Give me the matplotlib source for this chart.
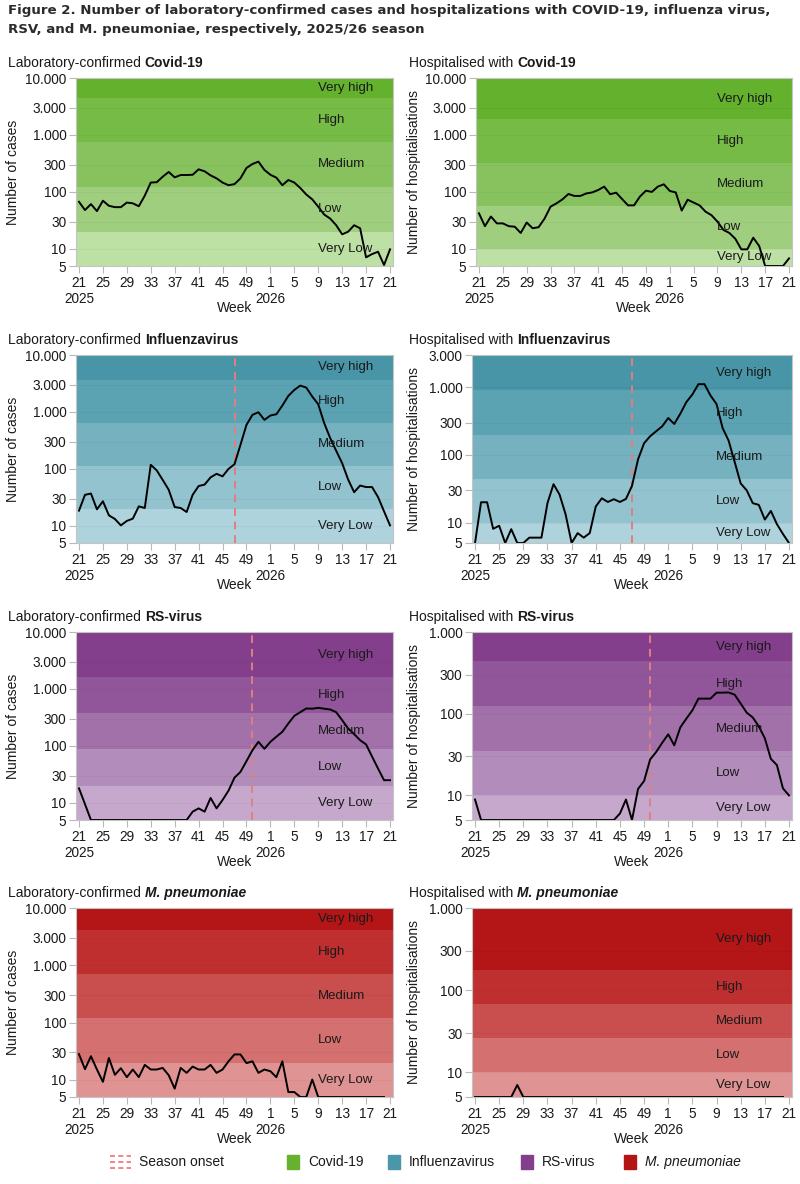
import numpy as np
import matplotlib
matplotlib.use("Agg")
import matplotlib.pyplot as plt
import matplotlib.transforms as mtransforms
from matplotlib.lines import Line2D
from matplotlib.patches import Rectangle

plt.rcParams['font.family'] = ['Liberation Sans', 'DejaVu Sans']

nan = np.nan

# ISO weeks 21/2025 .. 21/2026
weeks = list(range(21, 53)) + list(range(1, 22))
tick_every = 4
year_labels = {0: "2025", 32: "2026"}

# weekly counts (5 = floor of the log axis)
covid_lab = [67, 48, 61, 46, 70, 57, 54, 54, 65, 63, 56, 86, 146, 148, 185, 224, 180, 198,
             198, 200, 249, 230, 195, 173, 146, 131, 137, 173, 263, 309, 340, 243, 200, 178,
             131, 162, 146, 117, 90, 74, 55, 40, 34, 26, 18, 20, 26, 23, 7.1, 8.1, 8.9, 5.2, 9.8]
covid_hosp = [42, 25, 37, 28, 28, 25, 24.5, 19, 29, 23, 24, 34, 55, 63, 74, 92, 85, 85,
              94, 98, 108, 124, 91, 97, 75, 58, 58, 83, 105, 100, 124, 136, 104, 98,
              47, 73, 65, 58, 45, 39, 30, 21.5, 19, 15, 9.8, 9.8, 15.7, 11.2, 5, 5, 5, 5, 6.8]
flu_lab = [18.5, 35, 37, 19.5, 27, 15.3, 13.2, 10.2, 12.2, 13.4, 22, 20.6, 118, 94, 64, 43,
           21.4, 20.6, 17.5, 35, 50, 53, 71, 82, 74, 100, 121, 265, 593, 889, 989, 726, 865,
           912, 1294, 1914, 2437, 2904, 2679, 1862, 1367, 635, 347, 208, 126, 65, 39, 51, 48,
           48, 32, 18, 10.2]
flu_hosp = [5, 20, 20, 8.1, 9, 5, 8, 5, 5, 6, 6, 6, 19.4, 37, 26, 13.3, 5, 7, 6, 7, 17.3,
            22.9, 20.2, 22.2, 20.2, 22.4, 35, 86, 149, 189, 224, 265, 352, 287, 407, 604, 783,
            1112, 1112, 757, 565, 251, 163, 79, 38, 30, 19.4, 18.3, 11.1, 14.9, 9.5, 6.8, 5]
rsv_lab = [18, 9.5, 5, 5, 5, 5, 5, 5, 5, 5, 5, 5, 5, 5, 5, 5, 5, 5, 5,
           7, 8, 7, 12.2, 8, 11.2, 16.4, 27.7, 35, 54, 84, 118, 89, 118, 145, 177, 248, 337,
           391, 454, 450, 466, 450, 436, 391, 283, 202, 161, 126, 106, 65, 40, 25, 25]
rsv_hosp = [8.9, 5, 5, 5, 5, 5, 5, 5, 5, 5, 5, 5, 5, 5, 5, 5, 5, 5, 5, 5, 5, 5, 5, 5,
            6.0, 8.9, 5, 12, 15, 27.5, 34, 44, 56, 41, 68, 87, 110, 153, 153, 153, 181, 181,
            182, 171, 133, 103, 90, 70, 50, 28, 23.5, 12.2, 10]
mpn_lab = [28, 15.3, 25.8, 15.1, 9.2, 24, 12.2, 15.9, 11.1, 15.1, 11.1, 18.2, 15.1, 15.1,
           16.1, 12, 7, 16.1, 13.2, 17, 15.1, 15.1, 18.2, 13.2, 15.1, 21, 27.7, 27.7, 19.5,
           21, 13.2, 15.1, 14.1, 11.1, 21, 6.1, 6.1, 5, 5, 10.1, 5, 5, 5, 5, 5, 5, 5, 5, 5,
           5, 5, 5, nan]
mpn_hosp = [5, 5, 5, 5, 5, 5, 5, 7, 5, 5, 5, 5, 5, 5, 5, 5, 5, 5, 5, 5, 5, 5, 5, 5, 5, 5,
            5, 5, 5, 5, 5, 5, 5, 5, 5, 5, 5, 5, 5, 5, 5, 5, 5, 5, 5, 5, 5, 5, 5, 5, 5, 5, nan]

# intensity thresholds (Very Low|Low|Medium|High|Very high)
covid_lab_thr = [20, 122, 760, 4500]
covid_hosp_thr = [10, 57, 327, 1900]
flu_lab_thr = [20, 113, 650, 3650]
flu_hosp_thr = [10, 44, 195, 900]
rsv_lab_thr = [20, 88, 376, 1600]
rsv_hosp_thr = [10, 35, 124, 438]
mpn_lab_thr = [20, 121, 706, 4170]
mpn_hosp_thr = [10, 26, 68, 176]
levels = ["Very Low", "Low", "Medium", "High", "Very high"]

# season onset week (index into weeks)
flu_onset = weeks.index(47)
rsv_onset = weeks.index(50)

covid_bands = ["#bde0a5", "#9fce7e", "#87c25e", "#75bb45", "#64b12d"]
flu_bands = ["#aed3dc", "#92c3cf", "#75b1bf", "#5ba3b3", "#4895a8"]
rsv_bands = ["#c6a8cd", "#b28cbb", "#a271aa", "#91569a", "#833f8b"]
mpn_bands = ["#df9393", "#d47070", "#c94e4e", "#bf2f30", "#b41516"]

legend_names = ["Covid-19", "Influenzavirus", "RS-virus", "M. pneumoniae"]
legend_colors = ["#66b22e", "#4a97a9", "#843f8c", "#b41414"]

ytick_vals = [5, 10, 30, 100, 300, 1000, 3000, 10000]
ytick_text = ["5", "10", "30", "100", "300", "1.000", "3.000", "10.000"]

W, H = 800, 1184
fig = plt.figure(figsize=(W / 100, H / 100), dpi=100)


def px_rect(l, t, r, b):
    return [l / W, 1 - b / H, (r - l) / W, (b - t) / H]


def panel(rect, values, thr, colors, ymax, prefix, name, ylabel, onset=None, italic=False):
    ax = fig.add_axes(px_rect(*rect))
    x = np.arange(len(weeks))
    edges = [5] + thr + [ymax]
    for i in range(5):
        ax.axhspan(edges[i], edges[i + 1], color=colors[i], lw=0, zorder=0)
        ax.text(0.763, np.sqrt(edges[i] * edges[i + 1]), levels[i], fontsize=9.5,
                va='center', ha='left', color='#1a1a1a', zorder=4,
                transform=mtransforms.blended_transform_factory(ax.transAxes, ax.transData))
    if onset is not None:
        ax.axvline(onset, color='#e07f7f', ls=(0, (4, 3)), lw=1.4, zorder=2.1)
    ax.plot(x, values, color='black', lw=1.4, zorder=2.2)

    ax.set_yscale('log')
    ax.set_ylim(5, ymax)
    ax.set_xlim(-0.5, 52.5)
    yt = [v for v in ytick_vals if v <= ymax]
    ax.set_yticks(yt, [ytick_text[ytick_vals.index(v)] for v in yt])
    ax.yaxis.set_minor_locator(matplotlib.ticker.NullLocator())
    xt = list(range(0, len(weeks), tick_every))
    xl = [str(weeks[i]) + ("\n" + year_labels[i] if i in year_labels else "") for i in xt]
    ax.set_xticks(xt, xl)
    for lbl in ax.get_xticklabels():
        lbl.set_linespacing(1.2)
    ax.grid(axis='y', color='black', alpha=0.035, lw=0.8, zorder=1)
    for s in ax.spines.values():
        s.set_color('#c4c4c4')
        s.set_linewidth(0.8)
        s.set_zorder(2.5)
    ax.tick_params(length=5, width=0.8, color='#b8b8b8', labelsize=9.8, pad=2,
                   labelcolor='#1a1a1a')

    ax.set_xlabel("Week", fontsize=10, color='#1a1a1a', va='center')
    ax.xaxis.set_label_coords(0.5, -42 / (rect[3] - rect[1]))
    ax.set_ylabel(ylabel, fontsize=10, color='#1a1a1a', va='center')
    ylx = 13 if rect[0] < 400 else 414
    ax.yaxis.set_label_coords((ylx - rect[0]) / (rect[2] - rect[0]), 0.5)

    tx = 8 if rect[0] < 400 else 409
    t1 = fig.text(tx / W, 1 - (rect[1] - 8) / H, prefix, fontsize=10, va='bottom',
                  ha='left', color='#1a1a1a')
    ax.annotate(name, xy=(1, 0), xycoords=t1, va='bottom', ha='left', fontsize=10,
                fontweight='bold', fontstyle='italic' if italic else 'normal',
                color='#1a1a1a', annotation_clip=False)
    return ax


panel((76, 78, 393, 266), covid_lab, covid_lab_thr, covid_bands, 10000,
      "Laboratory-confirmed ", "Covid-19", "Number of cases")
panel((476, 78, 792, 266), covid_hosp, covid_hosp_thr, covid_bands, 10000,
      "Hospitalised with ", "Covid-19", "Number of hospitalisations")
panel((76, 355, 393, 543), flu_lab, flu_lab_thr, flu_bands, 10000,
      "Laboratory-confirmed ", "Influenzavirus", "Number of cases", onset=flu_onset)
panel((472, 355, 792, 543), flu_hosp, flu_hosp_thr, flu_bands, 3000,
      "Hospitalised with ", "Influenzavirus", "Number of hospitalisations", onset=flu_onset)
panel((76, 632, 393, 820), rsv_lab, rsv_lab_thr, rsv_bands, 10000,
      "Laboratory-confirmed ", "RS-virus", "Number of cases", onset=rsv_onset)
panel((472, 632, 792, 820), rsv_hosp, rsv_hosp_thr, rsv_bands, 1000,
      "Hospitalised with ", "RS-virus", "Number of hospitalisations", onset=rsv_onset)
panel((76, 908, 393, 1097), mpn_lab, mpn_lab_thr, mpn_bands, 10000,
      "Laboratory-confirmed ", "M. pneumoniae", "Number of cases", italic=True)
panel((472, 908, 792, 1097), mpn_hosp, mpn_hosp_thr, mpn_bands, 1000,
      "Hospitalised with ", "M. pneumoniae", "Number of hospitalisations", italic=True)

fig.text(8 / W, 1 - 4 / H,
         "Figure 2. Number of laboratory-confirmed cases and hospitalizations with COVID-19, influenza virus,\n"
         "RSV, and M. pneumoniae, respectively, 2025/26 season",
         fontsize=9.6, fontweight='bold', va='top', ha='left', color='#2b2b2b',
         family=['DejaVu Sans'], linespacing=1.55)

# legend, drawn by hand in figure pixels
ly = 1 - 1162 / H
for dy in (-6, 0, 6):
    fig.add_artist(Line2D([110 / W, 131 / W], [ly + dy / H] * 2, color='#f07070',
                          ls=(0, (3, 2)), lw=1.2, transform=fig.transFigure))
fig.text(139 / W, ly, "Season onset", fontsize=10, va='center', color='#1a1a1a')
leg_x = [287, 388, 521, 624]
for xx, name, col in zip(leg_x, legend_names, legend_colors):
    fig.add_artist(Rectangle((xx / W, ly - 7 / H), 12 / W, 14 / H, color=col,
                             transform=fig.transFigure))
    fig.text((xx + 21) / W, ly, name, fontsize=10, va='center', color='#1a1a1a',
             fontstyle='italic' if name.startswith("M.") else 'normal')

fig.savefig("out.png", dpi=100)
